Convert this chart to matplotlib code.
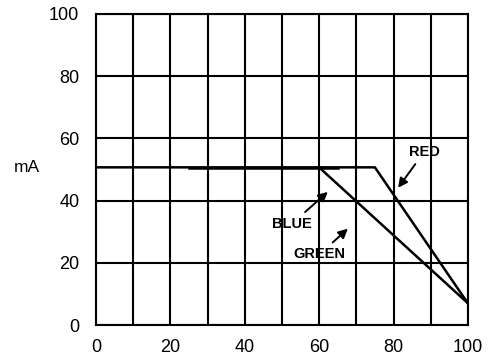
import matplotlib
matplotlib.use("Agg")
import matplotlib.pyplot as plt

plt.rcParams["font.family"] = ["Liberation Sans", "DejaVu Sans"]

# curvas (porcentaje vs mA)
red_x = [0, 75, 100]
red_y = [50.7, 50.7, 7]
green_x = [60, 100]
green_y = [50.7, 7]
blue_x = [25, 65]
blue_y = [50.4, 50.4]

xticks = [0, 20, 40, 60, 80, 100]
yticks = [0, 20, 40, 60, 80, 100]

fig = plt.figure(figsize=(4.92, 3.58), dpi=100)
ax = fig.add_axes([0.195, 0.092, 0.756, 0.869])

for x in range(0, 101, 10):
    ax.axvline(x, color="black", lw=1.5, zorder=1)
for y in yticks:
    ax.axhline(y, color="black", lw=1.5, zorder=1)

ax.plot(red_x, red_y, color="black", lw=1.8, zorder=3)
ax.plot(green_x, green_y, color="black", lw=1.8, zorder=3)
ax.plot(blue_x, blue_y, color="black", lw=1.8, zorder=3)

flecha = dict(arrowstyle="-|>", color="black", lw=1.4, mutation_scale=14)
ax.annotate("RED", xy=(80.8, 43.4), xytext=(88.2, 55.6), ha="center", va="center",
            fontsize=10.5, fontweight="bold", arrowprops=flecha)
ax.annotate("BLUE", xy=(62.9, 43.4), xytext=(52.7, 32.6), ha="center", va="center",
            fontsize=10.5, fontweight="bold", arrowprops=flecha)
ax.annotate("GREEN", xy=(68.3, 31.6), xytext=(60.2, 22.8), ha="center", va="center",
            fontsize=10.5, fontweight="bold", arrowprops=flecha)

ax.set_xlim(0, 100)
ax.set_ylim(0, 100)
ax.set_xticks(xticks)
ax.set_yticks(yticks)
ax.tick_params(axis="y", length=0, labelsize=13, pad=12)
ax.tick_params(axis="x", length=0, labelsize=13, pad=10)
for s in ax.spines.values():
    s.set_linewidth(1.5)
fig.text(27 / 492, 1 - 168 / 358, "mA", fontsize=12.5, ha="center", va="center")

fig.savefig("out.png", dpi=100)
